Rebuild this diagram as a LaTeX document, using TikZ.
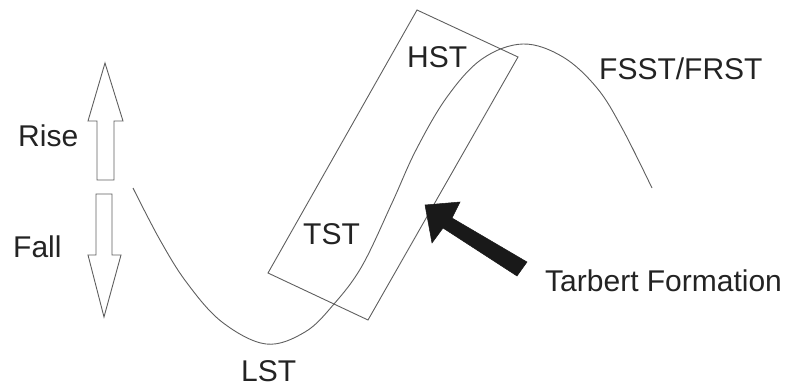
\documentclass[tikz,border=0pt]{standalone}
\usepackage{fontspec}
\setmainfont{Liberation Sans}
\usepackage{tikz}
\usetikzlibrary{calc}
\definecolor{linegray}{RGB}{95,95,95}
\definecolor{textgray}{RGB}{35,35,35}
\tikzset{
lbl/.style={font=\fontsize{30}{36}\selectfont,text=textgray,inner sep=0pt,anchor=base west},
thinline/.style={draw=linegray,line width=0.9pt,line join=miter},
curveline/.style={draw=linegray,line width=0.9pt},
hollowarrow/.style={draw=linegray,line width=0.9pt,fill=white},
blackarrow/.style={fill=black!90,draw=black!90,line width=0.5pt,line join=miter}
}
\begin{document}
\begin{tikzpicture}[x=1pt,y=-1pt]
\useasboundingbox (0,0) rectangle (795,390);
% rise / fall arrows
\draw[hollowarrow] (105,63) -- (123,121) -- (114,121) -- (114,180) -- (97,180) -- (97,121) -- (88,121) -- cycle;
\draw[hollowarrow] (96,194) -- (112,194) -- (112,255) -- (121,255) -- (104,317) -- (88,255) -- (96,255) -- cycle;
\node[lbl] (rise) at (18,147) {Rise};
\node[lbl] (fall) at (13,258) {Fall};
% sea level curve
\draw[curveline] plot[smooth,tension=0.6] coordinates {(133,188) (160,240) (187,283) (222,322) (266,344) (305,332) (334,304) (362,266) (392,203) (416,150) (447,97) (482,59) (523,44) (563,57) (597,88) (622,128) (652,188)};
% tilted box
\draw[thinline] (417,10) -- (518,57) -- (368,320) -- (268,273) -- cycle;
% black arrow
\fill[blackarrow] (425,205) -- (460,202) -- (452,218) -- (527,262) -- (517,276) -- (443,228) -- (432,243) -- cycle;
\node[lbl] (hst) at (407,68) {HST};
\node[lbl] (tst) at (303,244) {TST};
\node[lbl] (lst) at (241,381) {LST};
\node[lbl] (fsst) at (599,80) {FSST/FRST};
\node[lbl] (tarbert) at (545,291) {Tarbert Formation};
\end{tikzpicture}
\end{document}
